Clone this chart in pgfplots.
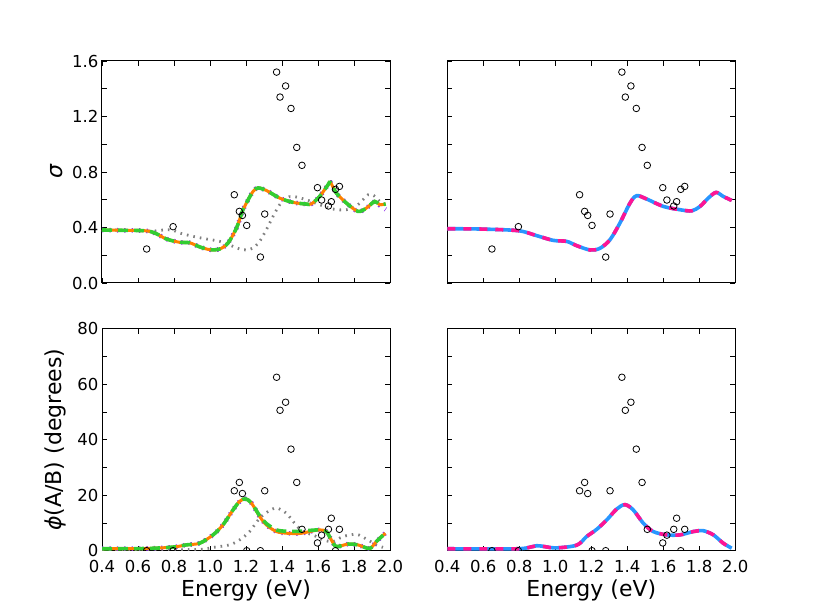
\documentclass[border=0pt]{standalone}
\usepackage{fontspec}
\setmainfont{DejaVu Sans}
\usepackage{pgfplots}
\usepackage{pgfplotstable}
\pgfplotsset{compat=1.18}

\definecolor{cOrange}{RGB}{255,128,0}
\definecolor{cGreen}{RGB}{50,205,50}
\definecolor{cPurple}{RGB}{145,50,235}
\definecolor{cGray}{RGB}{128,128,128}
\definecolor{cBlue}{RGB}{40,150,255}
\definecolor{cPink}{RGB}{255,20,147}

\pgfplotstableread{
x y
0.648 0.245
0.795 0.406
1.135 0.636
1.163 0.516
1.180 0.487
1.204 0.415
1.280 0.187
1.304 0.497
1.370 1.520
1.389 1.340
1.420 1.420
1.450 1.258
1.482 0.977
1.511 0.848
1.597 0.687
1.620 0.598
1.658 0.555
1.674 0.586
1.697 0.675
1.719 0.696
}\sigmapts

\pgfplotstableread{
x y
0.648 0
0.795 0
1.135 21.6
1.163 24.6
1.180 20.6
1.204 0
1.280 0
1.304 21.6
1.370 62.5
1.389 50.6
1.420 53.5
1.450 36.6
1.482 24.6
1.511 7.7
1.597 2.8
1.620 5.6
1.658 7.7
1.674 11.7
1.697 0
1.719 7.7
}\phipts

\pgfplotsset{
  base/.style={
    scale only axis, width=288pt, height=222pt,
    xmin=0.4, xmax=2.0,
    xtick={0.4,0.6,0.8,1.0,1.2,1.4,1.6,1.8,2.0},
    tick align=inside, major tick length=5pt,
    axis line style={line width=1pt},
    every tick/.style={black, line width=0.8pt},
    tick label style={font=\fontsize{16.5}{20}\selectfont},
    xticklabel style={yshift=-6pt},
    label style={font=\fontsize{22}{26}\selectfont},
    /pgf/number format/assume math mode=true,
    clip marker paths=true,
  },
  topy/.style={ymin=0, ymax=1.6, ytick={0,0.2,0.4,0.6,0.8,1.0,1.2,1.4,1.6}},
  boty/.style={ymin=0, ymax=80, ytick={0,10,20,30,40,50,60,70,80}},
  botx/.style={xticklabels={0.4,0.6,0.8,1.0,1.2,1.4,1.6,1.8,2.0}, xlabel={Energy (eV)}},
  pts/.style={only marks, mark=o, mark size=3.3pt, black, mark options={line width=0.8pt}},
  grayd/.style={cGray, line width=2.8pt, dash pattern=on 1.6pt off 5pt, smooth},
  purd/.style={cPurple, line width=4.6pt, dash pattern=on 1.4pt off 6pt, smooth},
  greend/.style={cGreen, line width=3.6pt, dash pattern=on 10pt off 6pt, smooth},
  orange/.style={cOrange, line width=3pt, smooth},
  blue/.style={cBlue, line width=3.6pt, smooth},
  pink/.style={cPink, line width=3.6pt, dash pattern=on 8pt off 8pt, smooth},
}

\begin{document}
\begin{tikzpicture}
\useasboundingbox (0,0) rectangle (817pt,613pt);

% top-left
\begin{axis}[base, topy, at={(102pt,330pt)}, anchor=south west,
  xticklabels={}, yticklabels={0.0,,0.4,,0.8,,1.2,,1.6},
  ylabel={\itshape σ}, ylabel shift=3pt]
\addplot[grayd] coordinates {(0.4,0.384)(0.5,0.38)(0.6,0.376)(0.683,0.374)(0.758,0.384)(0.8,0.378)(0.832,0.36)(0.906,0.336)(0.98,0.317)(1.054,0.30)(1.128,0.264)(1.165,0.245)(1.202,0.238)(1.239,0.252)(1.276,0.30)(1.313,0.384)(1.35,0.48)(1.387,0.564)(1.424,0.612)(1.461,0.624)(1.535,0.60)(1.609,0.564)(1.683,0.533)(1.758,0.528)(1.822,0.564)(1.878,0.636)(1.91,0.63)(1.943,0.588)(1.97,0.57)};
\addplot[purd] coordinates {(0.4,0.382)(0.5,0.38)(0.646,0.376)(0.702,0.355)(0.758,0.317)(0.832,0.293)(0.887,0.29)(0.943,0.26)(1.0,0.24)(1.054,0.245)(1.1,0.288)(1.147,0.396)(1.183,0.528)(1.202,0.576)(1.239,0.66)(1.267,0.685)(1.313,0.667)(1.387,0.612)(1.461,0.581)(1.535,0.569)(1.563,0.570)(1.609,0.624)(1.656,0.708)(1.669,0.725)(1.702,0.648)(1.758,0.576)(1.822,0.516)(1.869,0.54)(1.915,0.588)(1.943,0.56)(1.976,0.53)};
\addplot[orange] coordinates {(0.4,0.382)(0.5,0.38)(0.646,0.376)(0.702,0.355)(0.758,0.317)(0.832,0.293)(0.887,0.29)(0.943,0.26)(1.0,0.24)(1.054,0.245)(1.1,0.288)(1.147,0.396)(1.183,0.528)(1.202,0.576)(1.239,0.66)(1.267,0.685)(1.313,0.667)(1.387,0.612)(1.461,0.581)(1.535,0.569)(1.563,0.570)(1.609,0.624)(1.656,0.708)(1.669,0.725)(1.702,0.648)(1.758,0.576)(1.822,0.516)(1.869,0.54)(1.915,0.588)(1.943,0.564)(1.976,0.57)};
\addplot[greend] coordinates {(0.4,0.382)(0.5,0.38)(0.646,0.376)(0.702,0.355)(0.758,0.317)(0.832,0.293)(0.887,0.29)(0.943,0.26)(1.0,0.24)(1.054,0.245)(1.1,0.288)(1.147,0.396)(1.183,0.528)(1.202,0.576)(1.239,0.66)(1.267,0.685)(1.313,0.667)(1.387,0.612)(1.461,0.581)(1.535,0.569)(1.563,0.570)(1.609,0.624)(1.656,0.708)(1.669,0.725)(1.702,0.648)(1.758,0.576)(1.822,0.516)(1.869,0.54)(1.915,0.588)(1.943,0.564)(1.976,0.57)};
\addplot[pts] table[x=x,y=y] {\sigmapts};
\end{axis}

% top-right
\begin{axis}[base, topy, at={(447.3pt,330pt)}, anchor=south west,
  xticklabels={}, yticklabels={}]
\addplot[blue] coordinates {(0.4,0.391)(0.582,0.389)(0.794,0.377)(0.897,0.341)(0.989,0.307)(1.063,0.30)(1.119,0.269)(1.193,0.238)(1.248,0.25)(1.304,0.312)(1.359,0.432)(1.415,0.576)(1.452,0.629)(1.508,0.605)(1.6,0.552)(1.693,0.528)(1.758,0.52)(1.804,0.552)(1.85,0.612)(1.893,0.653)(1.933,0.624)(1.98,0.595)};
\addplot[pink] coordinates {(0.4,0.391)(0.582,0.389)(0.794,0.377)(0.897,0.341)(0.989,0.307)(1.063,0.30)(1.119,0.269)(1.193,0.238)(1.248,0.25)(1.304,0.312)(1.359,0.432)(1.415,0.576)(1.452,0.629)(1.508,0.605)(1.6,0.552)(1.693,0.528)(1.758,0.52)(1.804,0.552)(1.85,0.612)(1.893,0.653)(1.933,0.624)(1.98,0.595)};
\addplot[pts] table[x=x,y=y] {\sigmapts};
\end{axis}

% bottom-left
\begin{axis}[base, boty, botx, at={(102pt,62.3pt)}, anchor=south west,
  yticklabels={0,,20,,40,,60,,80},
  ylabel={{\itshape ϕ}(A/B) (degrees)}, ylabel shift=5pt]
\addplot[grayd] coordinates {(0.4,0.3)(0.7,0.3)(0.943,0.5)(1.017,1.2)(1.109,2.1)(1.165,3.9)(1.22,6.9)(1.276,11.7)(1.322,14.1)(1.369,15.4)(1.424,13.5)(1.47,9.9)(1.516,6.9)(1.572,5.7)(1.628,3.9)(1.683,3.3)(1.739,5.1)(1.813,5.9)(1.869,4.2)(1.924,2.1)(1.961,1.2)};
\addplot[purd] coordinates {(0.4,0.7)(0.646,0.8)(0.795,1.3)(0.869,2.1)(0.943,2.7)(1.017,5.7)(1.072,9.3)(1.128,14.7)(1.165,17.8)(1.197,18.7)(1.23,17.2)(1.276,12.3)(1.313,9.3)(1.369,6.9)(1.424,6.3)(1.498,6.2)(1.554,6.9)(1.61,7.5)(1.646,6.9)(1.674,3.9)(1.702,1.5)(1.767,2.4)(1.822,2.1)(1.887,0.8)(1.924,3.3)(1.974,6.3)};
\addplot[orange] coordinates {(0.4,0.7)(0.646,0.8)(0.795,1.3)(0.869,2.1)(0.943,2.7)(1.017,5.7)(1.072,9.3)(1.128,14.7)(1.165,17.8)(1.197,18.7)(1.23,17.2)(1.276,12.3)(1.313,9.3)(1.369,6.9)(1.424,6.3)(1.498,6.2)(1.554,6.9)(1.61,7.5)(1.646,6.9)(1.674,3.9)(1.702,1.5)(1.767,2.4)(1.822,2.1)(1.887,0.8)(1.924,3.3)(1.974,6.3)};
\addplot[greend] coordinates {(0.4,0.7)(0.646,0.8)(0.795,1.3)(0.869,2.1)(0.943,2.7)(1.017,5.7)(1.072,9.3)(1.128,14.7)(1.165,17.8)(1.197,18.7)(1.23,17.2)(1.276,12.6)(1.313,9.8)(1.369,7.5)(1.424,7.0)(1.498,7.0)(1.554,7.3)(1.61,7.5)(1.646,6.9)(1.674,3.9)(1.702,1.5)(1.767,2.4)(1.822,2.1)(1.887,0.8)(1.924,3.3)(1.974,6.3)};
\addplot[pts] table[x=x,y=y] {\phipts};
\end{axis}

% bottom-right
\begin{axis}[base, boty, botx, at={(447.3pt,62.3pt)}, anchor=south west,
  yticklabels={}]
\addplot[blue] coordinates {(0.4,0.7)(0.794,0.7)(0.897,1.8)(0.998,1.0)(1.119,2.0)(1.174,5.1)(1.23,7.7)(1.286,11.1)(1.341,15.0)(1.387,16.6)(1.433,14.7)(1.489,9.9)(1.544,6.9)(1.619,5.7)(1.693,5.7)(1.767,6.9)(1.822,7.2)(1.878,5.7)(1.933,2.7)(1.98,0.9)};
\addplot[pink] coordinates {(0.4,0.7)(0.794,0.7)(0.897,1.8)(0.998,1.0)(1.119,2.0)(1.174,5.1)(1.23,7.7)(1.286,11.1)(1.341,15.0)(1.387,16.6)(1.433,14.7)(1.489,9.9)(1.544,6.9)(1.619,5.7)(1.693,5.7)(1.767,6.9)(1.822,7.2)(1.878,5.7)(1.933,2.7)(1.98,0.9)};
\addplot[pts] table[x=x,y=y] {\phipts};
\end{axis}
\end{tikzpicture}
\end{document}
